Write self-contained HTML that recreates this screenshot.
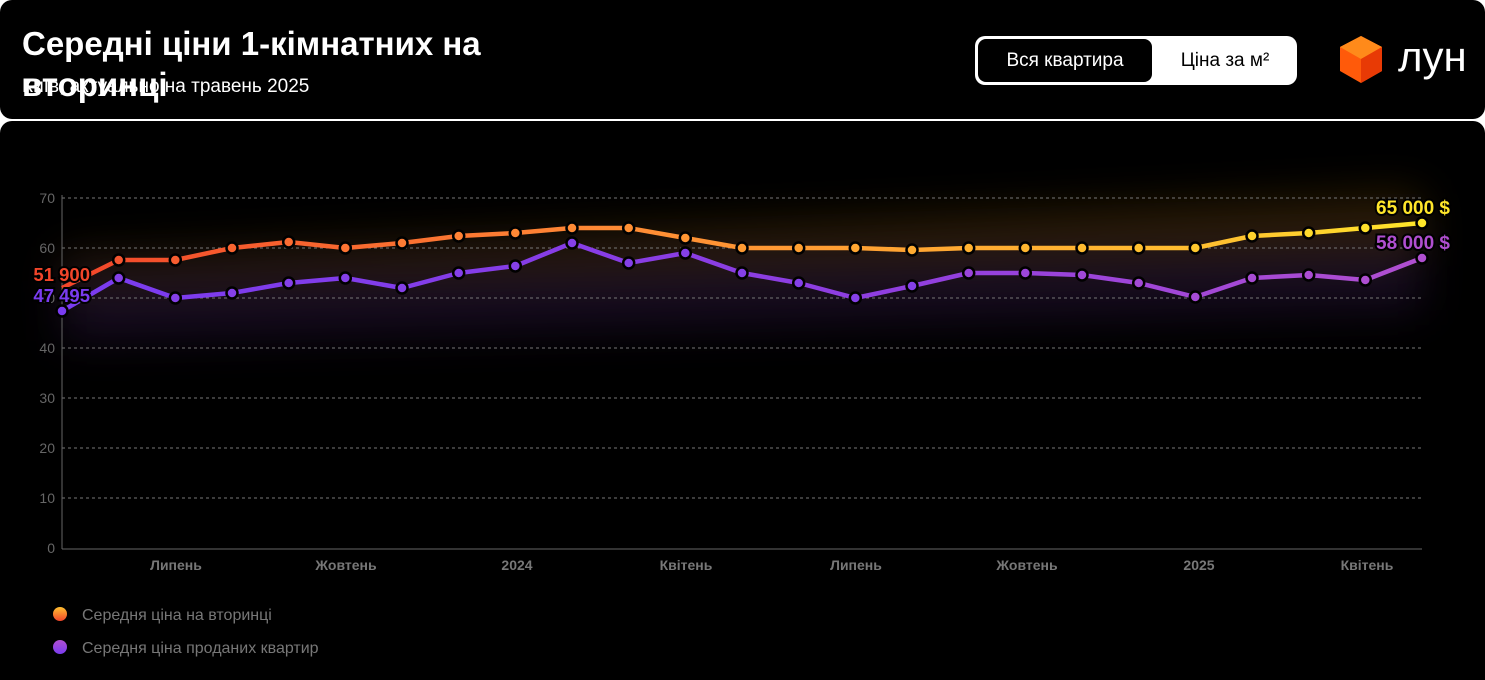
<!DOCTYPE html>
<html><head><meta charset="utf-8"><style>
body{margin:0;width:1485px;height:680px;background:#fff;overflow:hidden;font-family:"Liberation Sans","DejaVu Sans",sans-serif}
.h{position:absolute;left:0;top:0;width:1485px;height:119px;background:#000;border-radius:12px}
.c{position:absolute;left:0;top:121px;width:1485px;height:559px;background:#000;border-radius:12px 12px 0 0}
.t{position:absolute;left:22px;top:23px;color:#fff;font-size:33px;font-weight:bold;line-height:41px;width:490px}
.s{position:absolute;left:22px;top:76px;color:#fff;font-size:19px}
.tg{position:absolute;left:975px;top:36px;width:322px;height:49px;background:#fff;border-radius:10px}
.tg .a{position:absolute;left:3px;top:3px;width:174px;height:43px;background:#000;border-radius:8px;color:#fff;font-size:19px;line-height:43px;text-align:center}
.tg .b{position:absolute;left:180px;top:0;width:140px;line-height:49px;text-align:center;font-size:19px;color:#000}
.logo{position:absolute;left:1398px;top:33px;color:#fff;font-size:42px;font-weight:normal;letter-spacing:0px}
</style></head><body>
<div class="h"></div><div class="c"></div>
<div class="s">Київ, актуально на травень 2025</div>
<div class="t">Середні ціни 1-кімнатних на вторинці</div>
<div class="tg"><div class="a">Вся квартира</div><div class="b">Ціна за м²</div></div>
<svg style="position:absolute;left:1340px;top:35px" width="46" height="50"><polygon points="21,1 42,12 42,36 21,48 0,36 0,12" fill="#ff5a0a"/><polygon points="21,1 42,12 21,24 0,12" fill="#ff8a1a"/><polygon points="21,24 42,12 42,36 21,48" fill="#e83a05"/></svg>
<div class="logo">лун</div>
<svg style="position:absolute;left:0;top:0" width="1485" height="680" font-family="Liberation Sans, sans-serif">
<defs>
<linearGradient id="go" gradientUnits="userSpaceOnUse" x1="62" y1="0" x2="1422" y2="0"><stop offset="0" stop-color="#f2452a"/><stop offset="0.4" stop-color="#ff8a35"/><stop offset="0.85" stop-color="#ffc030"/><stop offset="1" stop-color="#ffe62a"/></linearGradient>
<linearGradient id="gp" gradientUnits="userSpaceOnUse" x1="62" y1="0" x2="1422" y2="0"><stop offset="0" stop-color="#7a3cf0"/><stop offset="0.6" stop-color="#8f3ee0"/><stop offset="1" stop-color="#b04fd0"/></linearGradient>
<filter id="bl" x="-10%" y="-200%" width="120%" height="500%"><feGaussianBlur stdDeviation="22"/></filter>
</defs>
<g filter="url(#bl)" opacity="0.35">
<polyline points="62,288 1422,223" stroke="#7a5010" stroke-width="60" fill="none"/>
<polyline points="62,311 1422,280" stroke="#40205a" stroke-width="60" fill="none"/>
</g>
<g stroke="#777" stroke-dasharray="3,3" stroke-width="1">
<line x1="62" x2="1422" y1="198" y2="198"/><line x1="62" x2="1422" y1="248" y2="248"/><line x1="62" x2="1422" y1="298" y2="298"/><line x1="62" x2="1422" y1="348" y2="348"/><line x1="62" x2="1422" y1="398" y2="398"/><line x1="62" x2="1422" y1="448" y2="448"/><line x1="62" x2="1422" y1="498" y2="498"/>
</g>
<line x1="62" y1="195" x2="62" y2="549" stroke="#666"/><line x1="62" y1="549" x2="1422" y2="549" stroke="#666"/>
<g fill="#666" font-size="14" text-anchor="end"><text x="55" y="203">70</text><text x="55" y="253">60</text><text x="55" y="303">50</text><text x="55" y="353">40</text><text x="55" y="403">30</text><text x="55" y="453">20</text><text x="55" y="503">10</text><text x="55" y="553">0</text></g>
<g fill="#777" font-size="14" font-weight="bold" text-anchor="middle"><text x="176" y="570">Липень</text><text x="346" y="570">Жовтень</text><text x="517" y="570">2024</text><text x="686" y="570">Квітень</text><text x="856" y="570">Липень</text><text x="1027" y="570">Жовтень</text><text x="1199" y="570">2025</text><text x="1367" y="570">Квітень</text></g>
<polyline fill="none" stroke="url(#go)" stroke-width="4.5" stroke-linejoin="round" points="62,288 118.7,260 175.3,260 232,248 288.7,242 345.3,248 402,243 458.7,236 515.3,233 572,228 628.7,228 685.3,238 742,248 798.7,248 855.3,248 912,250 968.7,248 1025.3,248 1082,248 1138.7,248 1195.3,248 1252,236 1308.7,233 1365.3,228 1422,223"/>
<polyline fill="none" stroke="url(#gp)" stroke-width="4.5" stroke-linejoin="round" points="62,311 118.7,278 175.3,298 232,293 288.7,283 345.3,278 402,288 458.7,273 515.3,266 572,243 628.7,263 685.3,253 742,273 798.7,283 855.3,298 912,286 968.7,273 1025.3,273 1082,275 1138.7,283 1195.3,297 1252,278 1308.7,275 1365.3,280 1422,258"/>
<g stroke="#000" stroke-width="2.5">
<circle cx="118.7" cy="260" r="5.5" fill="#f55530"/><circle cx="175.3" cy="260" r="5.5" fill="#f75d30"/><circle cx="232" cy="248" r="5.5" fill="#fa6430"/><circle cx="288.7" cy="242" r="5.5" fill="#fc6c32"/><circle cx="345.3" cy="248" r="5.5" fill="#fd7433"/><circle cx="402" cy="243" r="5.5" fill="#fe7c34"/><circle cx="458.7" cy="236" r="5.5" fill="#ff8235"/><circle cx="515.3" cy="233" r="5.5" fill="#ff8835"/><circle cx="572" cy="228" r="5.5" fill="#ff8a35"/><circle cx="628.7" cy="228" r="5.5" fill="#ff8f34"/><circle cx="685.3" cy="238" r="5.5" fill="#ff9533"/><circle cx="742" cy="248" r="5.5" fill="#ff9b33"/><circle cx="798.7" cy="248" r="5.5" fill="#ffa032"/><circle cx="855.3" cy="248" r="5.5" fill="#ffa632"/><circle cx="912" cy="250" r="5.5" fill="#ffab31"/><circle cx="968.7" cy="248" r="5.5" fill="#ffb131"/><circle cx="1025.3" cy="248" r="5.5" fill="#ffb630"/><circle cx="1082" cy="248" r="5.5" fill="#ffbb30"/><circle cx="1138.7" cy="248" r="5.5" fill="#ffc030"/><circle cx="1195.3" cy="248" r="5.5" fill="#ffc82e"/><circle cx="1252" cy="236" r="5.5" fill="#ffd22d"/><circle cx="1308.7" cy="233" r="5.5" fill="#ffda2c"/><circle cx="1365.3" cy="228" r="5.5" fill="#ffe02b"/><circle cx="1422" cy="223" r="5.5" fill="#ffe62a"/>
</g>
<g stroke="#000" stroke-width="2.5" fill="#8540e8">
<circle cx="62" cy="311" r="5.5" fill="#7a3cf0"/><circle cx="118.7" cy="278" r="5.5"/><circle cx="175.3" cy="298" r="5.5"/><circle cx="232" cy="293" r="5.5"/><circle cx="288.7" cy="283" r="5.5"/><circle cx="345.3" cy="278" r="5.5"/><circle cx="402" cy="288" r="5.5"/><circle cx="458.7" cy="273" r="5.5"/><circle cx="515.3" cy="266" r="5.5"/><circle cx="572" cy="243" r="5.5"/><circle cx="628.7" cy="263" r="5.5"/><circle cx="685.3" cy="253" r="5.5"/><circle cx="742" cy="273" r="5.5"/><circle cx="798.7" cy="283" r="5.5"/><circle cx="855.3" cy="298" r="5.5"/><circle cx="912" cy="286" r="5.5"/><circle cx="968.7" cy="273" r="5.5" fill="#9a45da"/><circle cx="1025.3" cy="273" r="5.5" fill="#9c46d9"/><circle cx="1082" cy="275" r="5.5" fill="#9f48d7"/><circle cx="1138.7" cy="283" r="5.5" fill="#a24ad5"/><circle cx="1195.3" cy="297" r="5.5" fill="#a54bd4"/><circle cx="1252" cy="278" r="5.5" fill="#a84cd3"/><circle cx="1308.7" cy="275" r="5.5" fill="#ab4dd2"/><circle cx="1365.3" cy="280" r="5.5" fill="#ae4ed1"/><circle cx="1422" cy="258" r="5.5" fill="#b04fd0"/>
</g>
<g font-weight="bold" stroke="#000" stroke-width="4" paint-order="stroke">
<text x="90" y="281" font-size="18.5" text-anchor="end" fill="#f2452a">51 900</text>
<text x="90" y="302" font-size="18.5" text-anchor="end" fill="#7a3cf0">47 495</text>
<text x="1450" y="214" font-size="19" text-anchor="end" fill="#ffe62a">65 000 $</text>
<text x="1450" y="249" font-size="19" text-anchor="end" fill="#b04fd0">58 000 $</text>
</g>
<defs><linearGradient id="lo" x1="0" y1="0" x2="0" y2="1"><stop offset="0" stop-color="#ffc030"/><stop offset="1" stop-color="#f2452a"/></linearGradient><linearGradient id="lp" x1="0" y1="0" x2="0" y2="1"><stop offset="0" stop-color="#b04fd0"/><stop offset="1" stop-color="#7a3cf0"/></linearGradient></defs>
<circle cx="60" cy="614" r="7" fill="url(#lo)"/><circle cx="60" cy="647" r="7" fill="url(#lp)"/>
<g fill="#777" font-size="16"><text x="82" y="620">Середня ціна на вторинці</text><text x="82" y="653">Середня ціна проданих квартир</text></g>
</svg>
</body></html>
